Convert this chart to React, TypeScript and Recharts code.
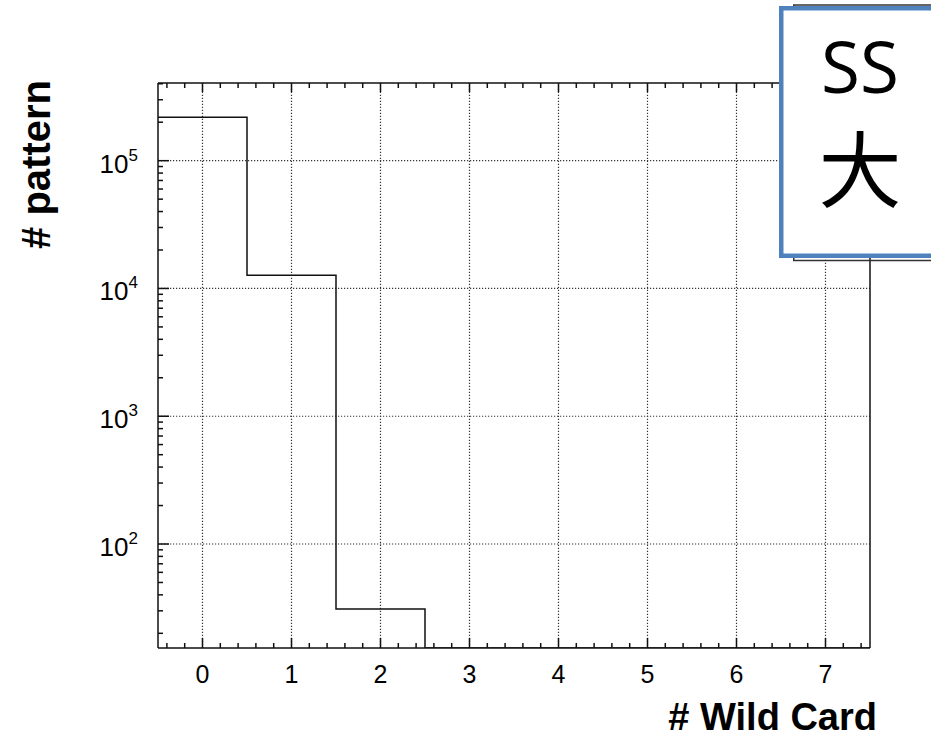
import React from "react";
import { LineChart, Line, XAxis, YAxis, ReferenceLine } from "recharts";

// ---- data ----
const wildCardBins = [0, 1, 2, 3, 4, 5, 6, 7];
const patternCounts = [218600, 12700, 31, 0, 0, 0, 0, 0];

const xMajorTicks = [0, 1, 2, 3, 4, 5, 6, 7];
const yMajorTicks = [100, 1000, 10000, 100000];
const yMinorTicks = [
  20, 30, 40, 50, 60, 70, 80, 90,
  200, 300, 400, 500, 600, 700, 800, 900,
  2000, 3000, 4000, 5000, 6000, 7000, 8000, 9000,
  20000, 30000, 40000, 50000, 60000, 70000, 80000, 90000,
  200000, 300000, 400000,
];

const xDomain: [number, number] = [-0.5, 7.5];
const yDomain: [number, number] = [15.35, 405500];

const xAllTicks: number[] = [];
for (let i = -2; i <= 37; i++) xAllTicks.push(Math.round(i * 2) / 10);
const yAllTicks = [...yMinorTicks, ...yMajorTicks].sort((a, b) => a - b);

// histogram drawn as steps on bin edges
const stepData = wildCardBins.map((b, i) => ({
  edge: b - 0.5,
  count: patternCounts[i] > 0 ? patternCounts[i] : yDomain[0],
}));
stepData.push({ edge: 7.5, count: stepData[stepData.length - 1].count });

const FONT = "'Liberation Sans', Arial, Helvetica, sans-serif";
const INK = "#111";
const TICK = "#111";

const isMajorX = (v: number) => Math.abs(v - Math.round(v)) < 1e-6;

const BottomTick = (props: any) => {
  const { x, y, payload } = props;
  const v = payload.value;
  const major = isMajorX(v);
  return (
    <g>
      <path d={`M${x},${y}V${y - (major ? 10 : 5)}`} stroke={TICK} strokeWidth={1.5} fill="none" />
      {major && (
        <text x={x} y={y + 35} textAnchor="middle" fontSize={25} fontFamily={FONT} fill="#000">
          {String(v)}
        </text>
      )}
    </g>
  );
};

const TopTick = (props: any) => {
  const { x, y, payload } = props;
  const major = isMajorX(payload.value);
  return (
    <g>
      <path d={`M${x},${y}V${y + (major ? 9 : 5)}`} stroke={TICK} strokeWidth={1.5} fill="none" />
    </g>
  );
};

const LeftTick = (props: any) => {
  const { x, y, payload } = props;
  const v = payload.value;
  const major = yMajorTicks.includes(v);
  const exp = Math.round(Math.log10(v));
  return (
    <g>
      <path d={`M${x},${y}H${x + (major ? 11 : 5)}`} stroke={TICK} strokeWidth={1.5} fill="none" />
      {major && (
        <text x={x - 20} y={y + 12} textAnchor="end" fontSize={26} fontFamily={FONT} fill="#000">
          10
          <tspan dy={-12} fontSize={17}>
            {String(exp)}
          </tspan>
        </text>
      )}
    </g>
  );
};

export default function App() {
  return (
    <div
      style={{
        position: "absolute",
        left: 0,
        top: 0,
        width: 931,
        height: 739,
        overflow: "hidden",
        background: "#fff",
      }}
    >
      <LineChart
        width={931}
        height={739}
        data={stepData}
        margin={{ top: 73, right: 51, bottom: 51, left: 98 }}
      >
        <XAxis
          xAxisId="bottom"
          dataKey="edge"
          type="number"
          domain={xDomain}
          allowDataOverflow
          ticks={xAllTicks}
          interval={0}
          tickSize={0}
          tickMargin={0}
          tickLine={false}
          axisLine={{ stroke: INK, strokeWidth: 1.5 }}
          tick={(p: any) => <BottomTick {...p} />}
          height={40}
          label={{
            content: () => (
              <text
                x={877}
                y={730}
                textAnchor="end"
                fontSize={38}
                fontWeight="bold"
                fontFamily={FONT}
                fill="#000"
              >
                # Wild Card
              </text>
            ),
          }}
        />
        <XAxis
          xAxisId="top"
          orientation="top"
          dataKey="edge"
          type="number"
          domain={xDomain}
          allowDataOverflow
          ticks={xAllTicks}
          interval={0}
          tickSize={0}
          tickMargin={0}
          tickLine={false}
          axisLine={{ stroke: INK, strokeWidth: 1.5 }}
          tick={(p: any) => <TopTick {...p} />}
          height={10}
        />
        <YAxis
          yAxisId="left"
          type="number"
          scale="log"
          domain={yDomain}
          allowDataOverflow
          ticks={yAllTicks}
          interval={0}
          tickSize={0}
          tickMargin={0}
          tickLine={false}
          axisLine={{ stroke: INK, strokeWidth: 1.5 }}
          tick={(p: any) => <LeftTick {...p} />}
          width={60}
          label={{
            content: () => (
              <text
                x={50}
                y={80}
                transform="rotate(-90 50 80)"
                textAnchor="end"
                fontSize={40}
                fontWeight="bold"
                fontFamily={FONT}
                fill="#000"
              >
                # pattern
              </text>
            ),
          }}
        />
        <YAxis
          yAxisId="right"
          orientation="right"
          type="number"
          scale="log"
          domain={yDomain}
          allowDataOverflow
          ticks={yMajorTicks}
          tick={false}
          tickLine={false}
          axisLine={{ stroke: INK, strokeWidth: 1.5 }}
          width={10}
        />
        {xMajorTicks.map((v) => (
          <ReferenceLine
            key={"gx" + v}
            xAxisId="bottom"
            yAxisId="left"
            x={v}
            stroke="#333"
            strokeWidth={1.2}
            strokeDasharray="1.2 1.8"
          />
        ))}
        {yMajorTicks.map((v) => (
          <ReferenceLine
            key={"gy" + v}
            xAxisId="bottom"
            yAxisId="left"
            y={v}
            stroke="#333"
            strokeWidth={1.2}
            strokeDasharray="1.2 1.8"
          />
        ))}
        <Line
          xAxisId="bottom"
          yAxisId="left"
          type="stepAfter"
          dataKey="count"
          stroke={INK}
          strokeWidth={1.5}
          dot={false}
          activeDot={false}
          isAnimationActive={false}
        />
      </LineChart>
      <svg
        width={931}
        height={739}
        style={{ position: "absolute", left: 0, top: 0, pointerEvents: "none" }}
      >
        <rect x={793.75} y={5} width={200} height={255.5} fill="none" stroke="#333" strokeWidth={1.5} />
        <rect x={781.25} y={8.25} width={200} height={247.5} fill="#fff" stroke="#4F81BD" strokeWidth={4.5} />
        <text x={860} y={93} textAnchor="middle" fontSize={71} fontFamily="'Open Sans', 'Noto Sans', sans-serif" fill="#000">
          SS
        </text>
        <text x={860} y={201} textAnchor="middle" fontSize={83} fontFamily="'Noto Sans CJK SC', sans-serif" fill="#000">
          大
        </text>
      </svg>
    </div>
  );
}
